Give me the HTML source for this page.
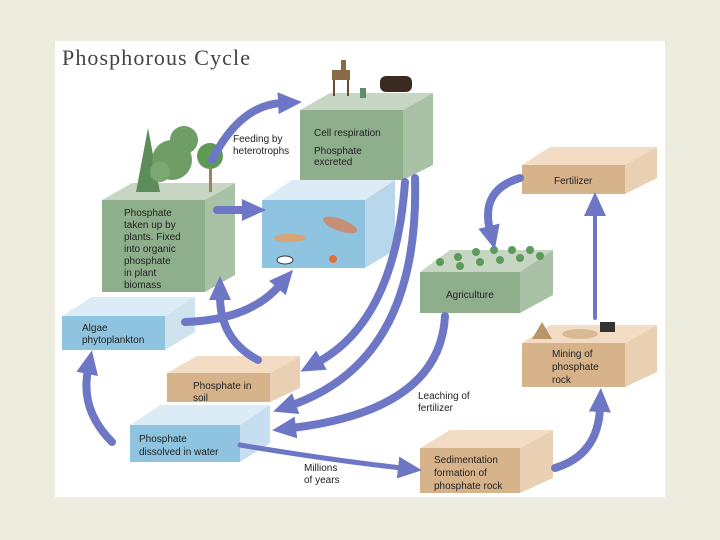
<!DOCTYPE html>
<html><head><meta charset="utf-8"><style>
html,body{margin:0;padding:0;background:#ededdf;}
svg{display:block;}
text{font-family:"Liberation Sans",sans-serif;font-size:10px;fill:#222;}
</style></head><body>
<svg width="720" height="540" viewBox="0 0 720 540" xmlns="http://www.w3.org/2000/svg">
<defs>
<marker id="ah" markerUnits="userSpaceOnUse" markerWidth="26" markerHeight="26" refX="4" refY="13" orient="auto">
<path d="M0,2 L24,13 L0,24 Z" fill="#6e77c6"/>
</marker>
</defs>
<rect x="0" y="0" width="720" height="540" fill="#ededdf"/>
<rect x="55" y="41" width="610" height="456" fill="#ffffff"/>
<text x="62" y="65" textLength="188" style="font-family:'Liberation Serif',serif;font-size:22px;fill:#444">Phosphorous Cycle</text>

<!-- Animals box -->
<polygon points="300,110 330,93 433,93 403,110" fill="#c7d6c3"/>
<polygon points="403,110 433,93 433,165 403,180" fill="#a9c2a6"/>
<rect x="300" y="110" width="103" height="70" fill="#8fae8c"/>
<text x="314" y="136">Cell respiration</text>
<text x="314" y="154">Phosphate</text><text x="314" y="165">excreted</text>
<rect x="332" y="70" width="18" height="10" fill="#8a6a45"/>
<rect x="333" y="80" width="2" height="16" fill="#6a4a30"/><rect x="347" y="80" width="2" height="16" fill="#6a4a30"/>
<rect x="341" y="60" width="5" height="12" fill="#8a6a45"/>
<rect x="380" y="76" width="32" height="16" rx="6" fill="#3a2a20"/>
<rect x="360" y="88" width="6" height="10" fill="#5f8f6a"/>

<!-- Water box with fish -->
<polygon points="262,200 292,180 395,180 365,200" fill="#dcecf6"/>
<polygon points="365,200 395,180 395,250 365,268" fill="#b8d7ea"/>
<rect x="262" y="200" width="103" height="68" fill="#8ec4df"/>
<ellipse cx="290" cy="238" rx="16" ry="4" fill="#d9a374"/>
<ellipse cx="340" cy="225" rx="18" ry="6" fill="#c88f78" transform="rotate(20 340 225)"/>
<ellipse cx="285" cy="260" rx="8" ry="4" fill="#ffffff" stroke="#334" stroke-width="1"/>
<circle cx="333" cy="259" r="4" fill="#e07040"/>

<!-- Plants box -->
<polygon points="102,200 132,183 235,183 205,200" fill="#c7d6c3"/>
<polygon points="205,200 235,183 235,275 205,292" fill="#a9c2a6"/>
<rect x="102" y="200" width="103" height="92" fill="#8fae8c"/>
<text x="124" y="216">Phosphate</text><text x="124" y="228">taken up by</text>
<text x="124" y="240">plants. Fixed</text><text x="124" y="252">into organic</text>
<text x="124" y="264">phosphate</text><text x="124" y="276">in plant</text>
<text x="124" y="288">biomass</text>
<polygon points="136,192 148,128 160,192" fill="#5b8c5a"/>
<circle cx="172" cy="160" r="20" fill="#6e9d66"/>
<circle cx="184" cy="140" r="14" fill="#6e9d66"/>
<circle cx="160" cy="172" r="10" fill="#7aa870"/>
<circle cx="210" cy="156" r="13" fill="#5f9a55"/>
<rect x="209" y="168" width="3" height="24" fill="#a08060"/>

<!-- Algae -->
<polygon points="62,316 92,297 195,297 165,316" fill="#dcecf6"/>
<polygon points="165,316 195,297 195,332 165,350" fill="#cfe3ee"/>
<rect x="62" y="316" width="103" height="34" fill="#8ec4df"/>
<text x="82" y="331">Algae</text><text x="82" y="343">phytoplankton</text>

<!-- Soil -->
<polygon points="167,373 197,356 300,356 270,373" fill="#f3dcc4"/>
<polygon points="270,373 300,356 300,388 270,402" fill="#ead0b3"/>
<rect x="167" y="373" width="103" height="29" fill="#d7b38b"/>
<text x="193" y="389">Phosphate in</text><text x="193" y="401">soil</text>

<!-- Dissolved -->
<polygon points="130,425 160,405 270,405 240,425" fill="#dcecf6"/>
<polygon points="240,425 270,405 270,443 240,462" fill="#c7def0"/>
<rect x="130" y="425" width="110" height="37" fill="#8ec4df"/>
<text x="139" y="442">Phosphate</text><text x="139" y="455">dissolved in water</text>

<!-- Fertilizer -->
<polygon points="522,165 550,147 657,147 625,165" fill="#f3dcc4"/>
<polygon points="625,165 657,147 657,178 625,194" fill="#ead0b3"/>
<rect x="522" y="165" width="103" height="29" fill="#d7b38b"/>
<text x="554" y="184">Fertilizer</text>

<!-- Agriculture -->
<polygon points="420,272 450,250 553,250 520,272" fill="#c7d6c3"/>
<polygon points="520,272 553,250 553,295 520,313" fill="#a9c2a6"/>
<rect x="420" y="272" width="100" height="41" fill="#8fae8c"/>
<text x="446" y="298">Agriculture</text>
<g fill="#5c9a5c">
<circle cx="440" cy="262" r="4"/><circle cx="458" cy="257" r="4"/><circle cx="476" cy="252" r="4"/><circle cx="494" cy="250" r="4"/><circle cx="512" cy="250" r="4"/><circle cx="530" cy="250" r="4"/>
<circle cx="460" cy="266" r="4"/><circle cx="480" cy="262" r="4"/><circle cx="500" cy="260" r="4"/><circle cx="520" cy="258" r="4"/><circle cx="540" cy="256" r="4"/>
</g>

<!-- Mining -->
<polygon points="522,343 550,325 657,325 625,343" fill="#f3dcc4"/>
<polygon points="625,343 657,325 657,372 625,387" fill="#ead0b3"/>
<rect x="522" y="343" width="103" height="44" fill="#d7b38b"/>
<text x="552" y="357">Mining of</text><text x="552" y="370">phosphate</text><text x="552" y="383">rock</text>
<polygon points="532,339 542,322 552,339" fill="#b8956a"/>
<ellipse cx="580" cy="334" rx="18" ry="5" fill="#d8b993"/>
<rect x="600" y="322" width="15" height="10" fill="#333"/>

<!-- Sedimentation -->
<polygon points="420,448 450,430 553,430 520,448" fill="#f3dcc4"/>
<polygon points="520,448 553,430 553,478 520,493" fill="#ead0b3"/>
<rect x="420" y="448" width="100" height="45" fill="#d7b38b"/>
<text x="434" y="463">Sedimentation</text><text x="434" y="476">formation of</text><text x="434" y="489">phosphate rock</text>

<text x="233" y="142">Feeding by</text><text x="233" y="154">heterotrophs</text>
<text x="418" y="399">Leaching of</text><text x="418" y="411">fertilizer</text>
<text x="304" y="471">Millions</text><text x="304" y="483">of years</text>

<g fill="none" stroke="#6e77c6" stroke-width="8" stroke-linecap="round">
<path d="M212,160 Q240,105 282,103" marker-end="url(#ah)"/>
<path d="M217,210 L246,210" marker-end="url(#ah)"/>
<path d="M405,182 Q395,320 318,362" marker-end="url(#ah)"/>
<path d="M415,178 Q420,360 292,405" marker-end="url(#ah)"/>
<path d="M445,316 Q440,410 292,428" marker-end="url(#ah)"/>
<path d="M520,178 Q480,190 490,230" marker-end="url(#ah)"/>
<path d="M595,318 L595,212" stroke-width="4" marker-end="url(#ah)"/>
<path d="M555,468 Q598,455 600,408" marker-end="url(#ah)"/>
<path d="M240,445 Q330,460 402,468" stroke-width="5" marker-end="url(#ah)"/>
<path d="M112,442 Q80,410 88,370" marker-end="url(#ah)"/>
<path d="M258,360 Q220,340 220,296" marker-end="url(#ah)"/>
<path d="M185,322 Q250,320 280,285" marker-end="url(#ah)"/>
</g>
</svg>
</body></html>
